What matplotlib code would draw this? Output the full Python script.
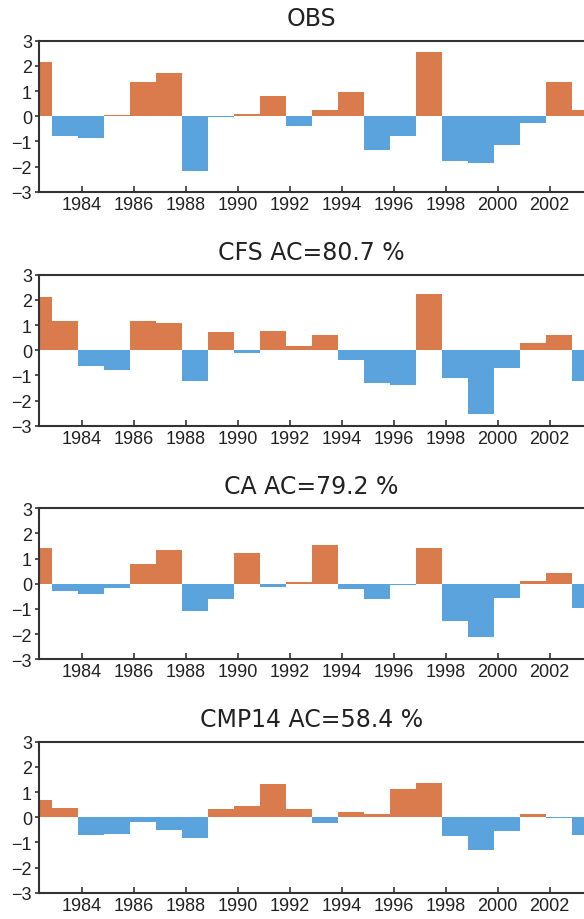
import matplotlib
matplotlib.use('Agg')
import matplotlib.pyplot as plt
import numpy as np

years = np.arange(1982, 2004)

obs = [2.17, -0.77, -0.85, 0.03, 1.36, 1.72, -2.16, -0.05, 0.07, 0.79, -0.37,
       0.25, 0.98, -1.35, -0.79, 2.54, -1.79, -1.84, -1.14, -0.26, 1.36, 0.24]
cfs = [2.12, 1.16, -0.62, -0.78, 1.16, 1.08, -1.24, 0.72, -0.12, 0.76, 0.16,
       0.62, -0.39, -1.30, -1.37, 2.24, -1.10, -2.54, -0.72, 0.28, 0.62, -1.21]
ca = [1.41, -0.29, -0.41, -0.17, 0.77, 1.33, -1.10, -0.60, 1.21, -0.11, 0.07,
      1.54, -0.19, -0.61, -0.05, 1.44, -1.46, -2.11, -0.55, 0.12, 0.41, -0.98]
cmp14 = [0.68, 0.35, -0.70, -0.68, -0.21, -0.51, -0.81, 0.33, 0.45, 1.33, 0.33,
         -0.24, 0.20, 0.13, 1.13, 1.37, -0.73, -1.32, -0.53, 0.11, -0.05, -0.69]

titles = ['OBS', 'CFS AC=80.7 %', 'CA AC=79.2 %', 'CMP14 AC=58.4 %']
series = [obs, cfs, ca, cmp14]

pos_color = '#D97B4C'
neg_color = '#5BA3DC'
spine_color = '#333333'

W, H = 584, 920
fig = plt.figure(figsize=(W / 100, H / 100), dpi=100)

tops = [41.7, 275.7, 509.3, 742.7]
ax_h = 151
left_px, right_px = 39, 586

for top, vals, title in zip(tops, series, titles):
    ax = fig.add_axes([left_px / W, 1 - (top + ax_h) / H,
                       (right_px - left_px) / W, ax_h / H])
    vals = np.array(vals)
    colors = [pos_color if v >= 0 else neg_color for v in vals]
    # bars sit a bit left of the year tick, one year wide
    ax.bar(years - 0.14, vals, width=1.0, align='edge', color=colors,
           edgecolor='none', linewidth=0)
    ax.set_xlim(1982.35, 2003.4)
    ax.set_ylim(-3, 3)
    ax.set_yticks(range(-3, 4))
    ax.set_yticklabels([str(t).replace('-', '\u2212') for t in range(-3, 4)],
                       family='Liberation Sans', fontsize=13)
    ax.set_xticks(range(1984, 2003, 2))
    ax.set_xticklabels([str(t) for t in range(1984, 2003, 2)],
                       family='Liberation Sans', fontsize=13)
    ax.tick_params(axis='x', direction='in', length=4, width=1.2,
                   color=spine_color, pad=3, labelcolor='#222222')
    ax.tick_params(axis='y', direction='out', length=3, width=1.2,
                   color=spine_color, pad=2, labelcolor='#222222')
    for s in ax.spines.values():
        s.set_color(spine_color)
        s.set_linewidth(1.5)
    ax.set_title(title, fontsize=17, family='DejaVu Sans', pad=11,
                 color='#222222', x=(311.5 - left_px) / (right_px - left_px))

fig.savefig('out.png', dpi=100, facecolor='white')
